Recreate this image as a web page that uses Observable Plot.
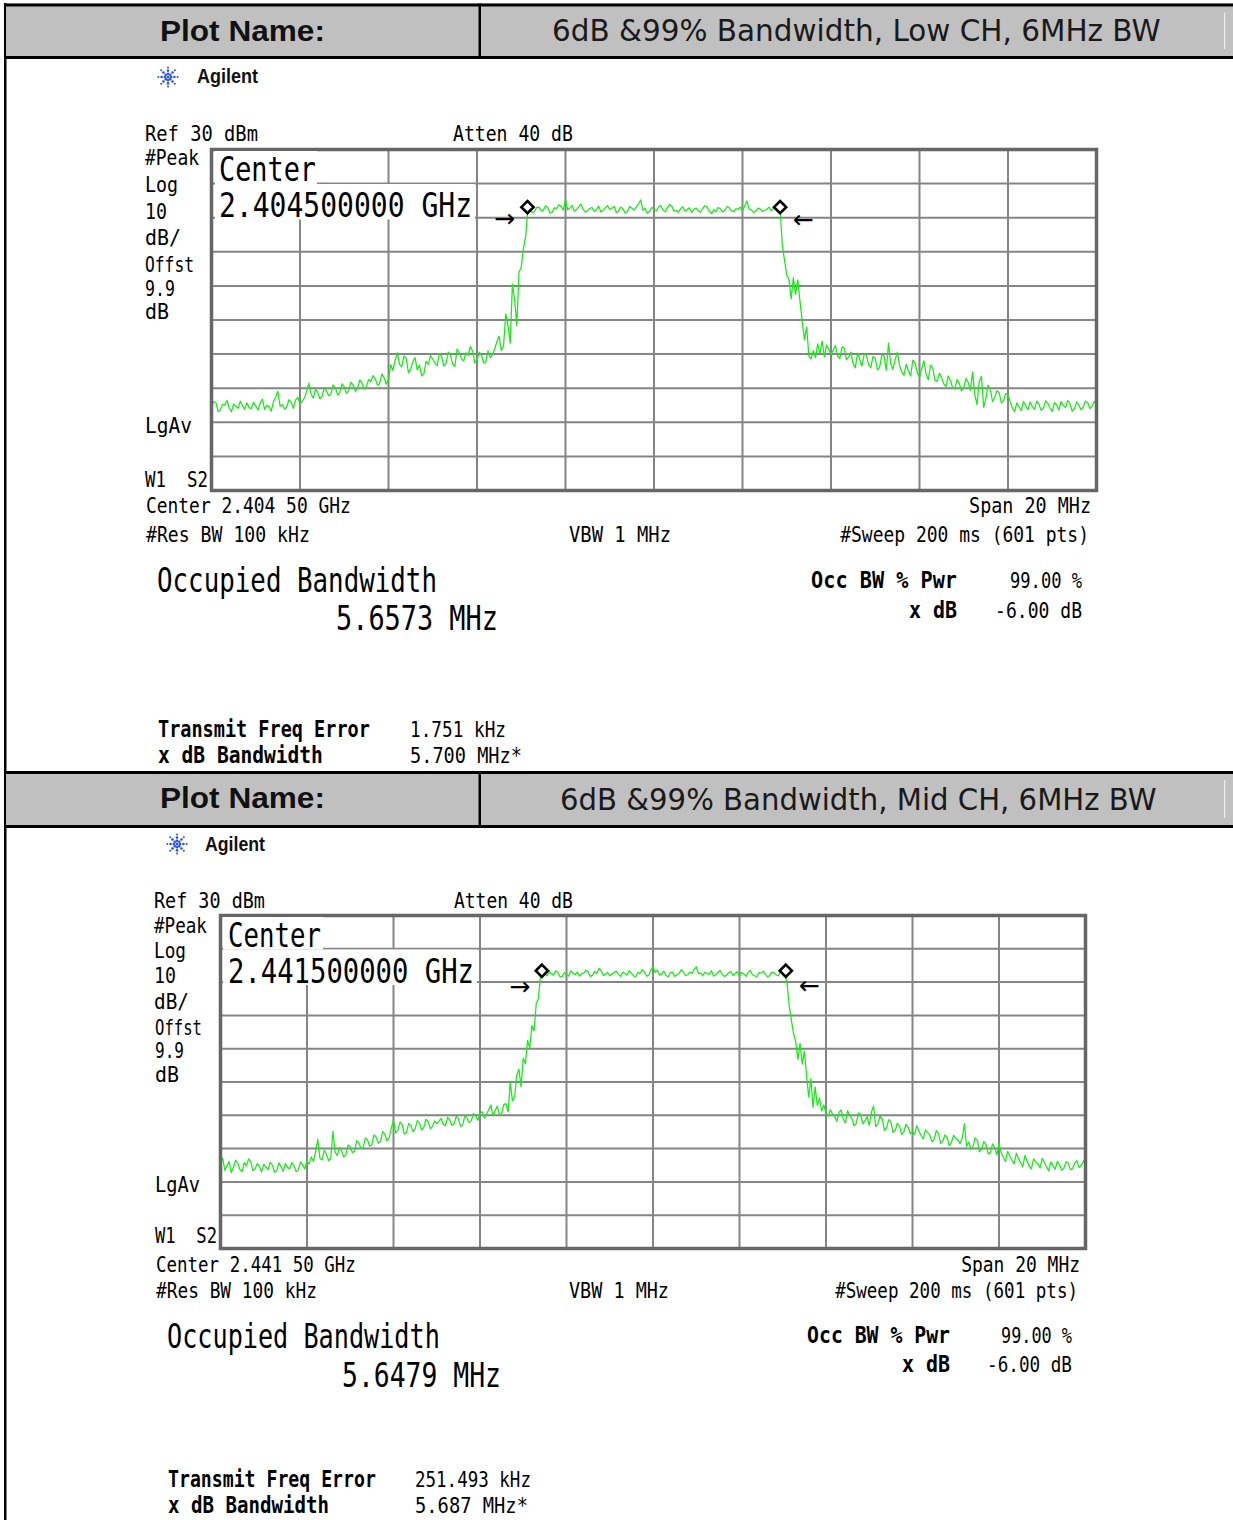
<!DOCTYPE html>
<html>
<head>
<meta charset="utf-8">
<script src="https://cdn.jsdelivr.net/npm/d3@7"></script>
<script src="https://cdn.jsdelivr.net/npm/@observablehq/plot@0.6"></script>
<style>
html,body{margin:0;padding:0;background:#fff;}
#page{position:relative;width:1233px;height:1520px;overflow:hidden;background:#fff;}
#page > svg.layer{position:absolute;left:0;top:0;}
.chart{position:absolute;}
.chart svg{display:block;}
</style>
</head>
<body>
<div id="page"></div>
<script>
// ---------------- DATA ----------------
const sweepStartMHz = -10;   // offset from centre frequency
const sweepStepMHz = 0.05;   // reading resolution of the trace (401 readings)
const gridFreqMHz = [-10, -8, -6, -4, -2, 0, 2, 4, 6, 8, 10];
const gridLevelDbm = [-70, -60, -50, -40, -30, -20, -10, 0, 10, 20, 30];

const plotTitles = ["6dB &99% Bandwidth, Low CH, 6MHz BW", "6dB &99% Bandwidth, Mid CH, 6MHz BW"];
const centerFreqLabels = ["2.404500000 GHz", "2.441500000 GHz"];
const centerShortLabels = ["Center 2.404 50 GHz", "Center 2.441 50 GHz"];
const occupiedBandwidth = ["5.6573 MHz", "5.6479 MHz"];
const transmitFreqError = ["1.751 kHz", "251.493 kHz"];
const xdBBandwidth = ["5.700 MHz*", "5.687 MHz*"];

// trace level in dBm, one reading every 0.05 MHz from -10 MHz to +10 MHz
const lowTrace = [
 -45.5,-43.9,-44.2,-46.8,-46.3,-44.7,-45.0,-43.6,-45.8,-46.9,-44.6,-45.3,-45.9,-43.8,-45.1,-46.2,-44.3,-45.7,-46.0,-44.1,-45.2,
 -46.4,-44.5,-43.2,-46.2,-45.0,-45.4,-46.7,-44.0,-42.6,-40.9,-45.3,-44.8,-46.1,-45.6,-43.4,-44.1,-45.9,-43.5,-42.7,-44.6,
 -43.9,-42.8,-41.0,-38.5,-41.7,-42.9,-40.3,-41.2,-43.1,-42.4,-39.8,-40.8,-42.2,-41.6,-39.0,-39.9,-42.0,-41.3,-38.7,-39.6,
 -41.5,-40.7,-38.2,-39.0,-40.9,-40.1,-37.6,-38.4,-40.3,-39.7,-37.4,-38.1,-36.3,-37.2,-39.1,-38.6,-35.8,-36.9,-38.8,-37.5,
 -33.1,-34.8,-31.9,-29.6,-33.0,-33.7,-30.5,-31.2,-35.4,-34.5,-32.2,-31.0,-34.6,-33.2,-36.4,-35.8,-32.1,-33.0,-30.4,-31.5,
 -32.6,-33.4,-29.8,-30.6,-33.5,-32.8,-29.4,-30.2,-32.9,-33.6,-28.5,-29.7,-31.4,-32.0,-29.6,-30.4,-27.8,-29.1,-32.5,-31.8,
 -29.4,-30.2,-32.6,-32.3,-29.0,-31.0,-30.1,-28.5,-26.3,-24.8,-28.9,-27.6,-18.2,-21.5,-26.8,-9.5,-14.0,-21.6,-6.0,-4.5,
 1.0,4.5,12.6,12.4,11.5,11.8,13.0,13.1,12.0,12.2,13.5,12.9,11.4,11.6,12.9,12.7,13.8,13.4,12.2,15.4,
 12.3,12.8,13.6,11.9,12.4,13.2,14.0,12.5,11.6,12.1,12.7,13.0,11.8,12.3,13.4,11.7,12.2,12.9,13.5,12.4,
 12.8,13.3,11.5,12.0,13.1,12.6,11.4,11.8,13.3,12.8,12.2,13.1,14.1,15.2,12.2,12.7,11.3,11.9,13.0,12.5,
 12.0,13.0,13.6,12.3,11.7,12.8,13.9,13.4,12.0,12.1,11.6,12.6,13.2,11.9,12.4,12.9,11.5,12.4,12.8,12.0,
 11.6,12.7,13.5,13.2,11.9,11.2,12.3,11.8,13.0,12.6,11.7,12.2,13.3,12.9,12.1,11.7,12.6,12.5,13.1,12.0,
 13.4,14.9,12.6,12.3,11.5,11.9,12.8,12.6,11.8,12.2,12.5,13.1,12.0,12.7,13.4,12.9,12.6,2.0,-2.5,-6.8,
 -8.0,-13.8,-7.6,-12.5,-8.2,-14.6,-20.4,-25.8,-22.0,-30.6,-31.4,-29.0,-31.0,-27.0,-29.9,-26.2,-30.8,-27.4,-28.6,-30.1,
 -28.8,-27.5,-30.6,-31.3,-27.9,-28.2,-31.6,-30.9,-29.4,-32.8,-34.0,-29.7,-31.5,-33.5,-29.9,-30.4,-33.1,-34.0,-30.7,-31.2,
 -34.6,-33.8,-30.1,-30.6,-34.7,-26.8,-32.9,-34.5,-31.6,-29.4,-33.4,-35.2,-36.2,-33.0,-34.8,-36.4,-31.8,-32.6,-35.5,-36.8,
 -34.3,-32.0,-35.9,-37.5,-33.2,-34.1,-37.7,-38.0,-35.6,-36.9,-38.8,-39.5,-36.4,-37.8,-39.9,-40.2,-37.5,-38.6,-40.8,-39.9,
 -37.1,-38.3,-40.6,-35.2,-41.9,-44.8,-38.0,-36.5,-45.6,-43.0,-39.1,-40.4,-43.9,-42.8,-40.7,-41.3,-44.3,-43.6,-41.5,-42.0,
 -44.1,-45.8,-46.9,-44.3,-45.5,-46.6,-43.9,-45.1,-46.3,-44.0,-45.4,-46.2,-43.8,-44.7,-46.5,-45.9,-43.7,-44.4,-45.8,-46.8,
 -44.2,-45.0,-46.4,-43.9,-45.1,-45.7,-43.6,-44.6,-46.7,-46.1,-44.0,-44.9,-46.3,-45.6,-43.8,-44.2,-46.0,-45.3,-43.9,-44.8
];
const midTrace = [
 -44.8,-42.9,-46.5,-45.1,-43.9,-47.2,-45.6,-43.5,-44.4,-46.3,-46.9,-44.2,-45.2,-43.1,-44.0,-46.6,-46.1,-44.5,-45.3,-47.0,-44.7,
 -45.5,-46.3,-44.1,-45.0,-47.1,-46.6,-44.3,-45.4,-46.8,-44.5,-45.7,-46.0,-44.2,-45.1,-47.0,-46.4,-44.0,-44.9,-46.1,-43.8,
 -44.6,-42.5,-43.8,-40.9,-37.2,-43.0,-43.4,-40.5,-41.7,-43.6,-42.9,-34.8,-41.1,-42.0,-39.7,-40.6,-42.5,-41.8,-38.9,-39.5,
 -41.2,-40.8,-37.6,-38.2,-40.1,-39.6,-36.8,-37.4,-39.3,-38.8,-35.9,-36.5,-38.4,-37.9,-34.9,-35.6,-37.7,-36.8,-33.8,-31.5,
 -35.3,-34.6,-32.0,-32.8,-35.6,-35.2,-32.5,-33.0,-34.9,-34.1,-31.6,-32.2,-34.4,-33.7,-31.2,-31.8,-34.0,-33.4,-31.7,-32.5,
 -31.8,-30.9,-32.7,-33.2,-30.6,-31.4,-33.0,-32.6,-30.3,-31.0,-33.3,-32.9,-30.1,-30.7,-32.2,-31.6,-29.4,-30.2,-31.5,-29.5,
 -28.9,-30.8,-29.7,-28.4,-26.9,-30.1,-28.6,-27.2,-29.8,-29.6,-26.8,-26.5,-29.0,-20.0,-25.6,-24.5,-17.9,-16.2,-21.4,-12.8,
 -14.5,-7.5,-9.8,-3.0,-4.6,3.5,5.0,11.8,12.9,12.6,11.9,13.2,12.5,12.1,13.4,12.9,11.6,11.7,12.8,12.4,
 11.8,13.4,12.7,12.2,13.0,11.8,12.5,12.7,13.6,13.1,11.7,12.0,13.2,12.6,14.1,13.5,12.0,12.3,12.9,11.9,
 12.4,12.8,13.3,12.4,11.7,13.0,12.6,12.1,13.4,12.7,11.9,11.6,12.9,12.5,13.7,13.2,11.8,12.0,13.5,14.8,
 12.9,13.6,12.1,12.4,13.3,12.0,11.6,12.8,13.0,11.7,12.2,12.5,13.7,13.1,11.9,12.2,13.0,12.6,13.8,14.6,
 12.5,12.7,11.9,13.0,12.6,12.3,13.4,11.8,12.2,12.9,13.5,12.4,11.7,12.1,12.8,13.2,12.0,12.6,13.1,11.8,
 12.9,12.5,11.7,12.9,13.5,12.2,11.9,11.6,12.8,12.7,13.3,12.3,11.6,12.0,13.0,12.8,12.1,11.9,13.2,12.4,
 13.0,9.5,3.0,-1.5,-5.5,-7.8,-13.2,-8.4,-14.6,-10.8,-17.8,-24.5,-19.0,-27.6,-21.5,-27.0,-24.8,-28.7,-26.9,-29.6,
 -30.2,-28.3,-29.6,-30.4,-31.8,-29.1,-28.4,-31.2,-32.3,-28.6,-30.1,-30.9,-33.2,-32.4,-29.3,-29.8,-32.6,-31.7,-30.4,-33.0,
 -29.1,-27.2,-33.4,-32.6,-30.2,-31.1,-34.5,-33.8,-31.3,-32.0,-35.1,-34.6,-32.4,-33.2,-35.8,-35.0,-32.7,-33.6,-35.6,-34.8,
 -35.7,-33.1,-34.8,-36.0,-37.1,-34.4,-35.2,-35.9,-38.0,-37.2,-34.6,-35.5,-38.4,-37.8,-35.9,-36.6,-39.1,-38.2,-36.0,-36.9,
 -37.4,-38.5,-36.9,-32.5,-39.3,-38.0,-40.2,-39.4,-36.8,-37.6,-40.9,-40.1,-37.9,-38.8,-41.6,-41.2,-38.6,-39.7,-41.9,-38.4,
 -41.1,-42.6,-43.9,-40.8,-42.2,-43.5,-44.6,-41.4,-43.0,-44.2,-45.4,-42.0,-43.7,-45.3,-46.1,-43.1,-44.0,-44.6,-45.8,-42.9,
 -44.1,-45.5,-46.6,-44.0,-45.2,-46.2,-43.8,-44.8,-46.5,-45.9,-43.9,-44.3,-46.3,-46.0,-44.4,-43.6,-45.7,-45.1,-44.0,-42.8
];
// peak-search markers (diamonds) and OBW arrows
const lowMarkers = [{f:-2.86, p:13.1}, {f:2.85, p:13.1}];
const midMarkers = [{f:-2.57, p:13.4}, {f:3.07, p:13.4}];
const lowArrows = [{f:-3.38, p:9.6, t:"→"}, {f:3.38, p:9.3, t:"←"}];
const midArrows = [{f:-3.08, p:8.6, t:"→"}, {f:3.62, p:8.7, t:"←"}];

// ---------------- LAYOUT ----------------
const MONO = "DejaVu Sans Mono";
const SANS = "Liberation Sans, Arial, sans-serif";
const TITLE = "DejaVu Sans, Verdana, sans-serif";
// [text, x, baseline, capHeight, width, anchor, weight]
const panels = [
  {
    title: plotTitles[0], header:{top:3.5, bottom:56}, titleX:552, titleW:609, titleBase:41,
    frame:{x:211, y:149, w:885, h:341}, trace:lowTrace, markers:lowMarkers, arrows:lowArrows,
    logo:{x:168, y:77, tx:197, tb:83, tw:61},
    centerBox:{x:215, y:151, w1:102, w2:260, mid:184, bot:219.5, tx:219, b1:181, b2:217, l1:97, l2:253},
    texts:[
      ["Ref 30 dBm",145,141,16,113],["Atten 40 dB",453,141,16,120],
      ["#Peak",145,165,16,54],["Log",145,192,16,33],["10",145,219,16,22],["dB/",145,245,16,36],
      ["Offst",145,272,16,49],["9.9",145,296,16,30],["dB",145,319,16,24],
      ["LgAv",145,433,16,47],["W1  S2",145,487,16,63],
      [centerShortLabels[0],146,513,16,205],["Span 20 MHz",1091,513,16,122,"end"],
      ["#Res BW 100 kHz",146,542,16,164],["VBW 1 MHz",569,542,16,102],
      ["#Sweep 200 ms (601 pts)",1089,542,16,249,"end"],
      ["Occupied Bandwidth",157,592,25,280],[occupiedBandwidth[0],336,630,25,162],
      ["Occ BW % Pwr",957,588,16.5,146,"end","bold"],["99.00 %",1082,588,16,72,"end"],
      ["x dB",957,618,16.5,48,"end","bold"],["-6.00 dB",1082,618,16,87,"end"],
      ["Transmit Freq Error",158,737,17,212,"start","bold"],[transmitFreqError[0],410,737,16,96],
      ["x dB Bandwidth",158,763,17,165,"start","bold"],[xdBBandwidth[0],410,763,16,112]
    ]
  },
  {
    title: plotTitles[1], header:{top:771, bottom:825}, titleX:560, titleW:597, titleBase:810,
    frame:{x:220, y:915, w:865, h:333}, trace:midTrace, markers:midMarkers, arrows:midArrows,
    logo:{x:177, y:844, tx:205, tb:851, tw:60},
    centerBox:{x:223, y:917, w1:100, w2:254, mid:949.5, bot:985, tx:228, b1:947, b2:983, l1:93, l2:246},
    texts:[
      ["Ref 30 dBm",154,908,16,111],["Atten 40 dB",454,908,16,119],
      ["#Peak",154,933,16,53],["Log",154,958,16,32],["10",154,983,16,22],["dB/",154,1009,16,35],
      ["Offst",155,1035,16,47],["9.9",155,1058,16,29],["dB",155,1082,16,24],
      ["LgAv",155,1192,16,45],["W1  S2",155,1243,16,62],
      [centerShortLabels[1],156,1272,16,200],["Span 20 MHz",1080,1272,16,119,"end"],
      ["#Res BW 100 kHz",156,1298,16,161],["VBW 1 MHz",569,1298,16,100],
      ["#Sweep 200 ms (601 pts)",1078,1298,16,243,"end"],
      ["Occupied Bandwidth",167,1348,24,273],[occupiedBandwidth[1],342,1387,25,159],
      ["Occ BW % Pwr",950,1343,16.5,143,"end","bold"],["99.00 %",1072,1343,16,71,"end"],
      ["x dB",950,1372,16.5,48,"end","bold"],["-6.00 dB",1072,1372,16,85,"end"],
      ["Transmit Freq Error",168,1487,16.5,208,"start","bold"],[transmitFreqError[1],415,1487,16,116],
      ["x dB Bandwidth",168,1513,16.5,161,"start","bold"],[xdBBandwidth[1],415,1513,16,113]
    ]
  }
];

const page = d3.select("#page");
const bg = page.append("svg").attr("class","layer").attr("width",1233).attr("height",1520);

// text whose natural width equals the target width, stretched vertically to the cap height
function addText(svg, t, x, y, cap, w, anchor="start", weight="normal", family=MONO, fill="#000", capRatio=0.729) {
  const g = svg.append("g").attr("transform", `translate(${x},${y})`);
  const el = g.append("text").attr("x",0).attr("y",0).attr("font-size",100)
    .attr("font-family",family).attr("font-weight",weight).attr("text-anchor",anchor)
    .attr("fill",fill).style("white-space","pre").text(t);
  const nat = el.node().getComputedTextLength() || 1;
  const fs = 100 * w / nat;
  el.attr("font-size", fs);
  const sy = cap / (capRatio * fs);
  g.attr("transform", `translate(${x},${y}) scale(1,${sy.toFixed(4)})`);
  return el;
}

function drawStar(svg, cx, cy) {
  const g = svg.append("g").attr("fill","#2d4fe6");
  for (let k = 0; k < 8; k++) {
    const a = k * Math.PI / 4;
    for (const r of [3.2, 6.4, 9.6]) {
      g.append("circle").attr("cx", cx + r*Math.cos(a)).attr("cy", cy + r*Math.sin(a)).attr("r", r > 8 ? 1.0 : 1.3);
    }
  }
  g.append("circle").attr("cx",cx).attr("cy",cy).attr("r",1.6);
}

// table frame (left border)
bg.append("rect").attr("x",4).attr("y",3).attr("width",2.5).attr("height",1517).attr("fill","#000");

panels.forEach((p, idx) => {
  const h = p.header;
  bg.append("rect").attr("x",6).attr("y",h.top).attr("width",1227).attr("height",h.bottom-h.top).attr("fill","#c0c0c0");
  bg.append("rect").attr("x",4).attr("y",h.top).attr("width",1229).attr("height",3).attr("fill","#000");
  bg.append("rect").attr("x",4).attr("y",h.bottom).attr("width",1229).attr("height",3).attr("fill","#000");
  bg.append("rect").attr("x",478.5).attr("y",h.top).attr("width",2.5).attr("height",h.bottom-h.top+2).attr("fill","#000");
  bg.append("rect").attr("x",1224).attr("y",h.top+9).attr("width",1.2).attr("height",h.bottom-h.top-16).attr("fill","#ececec");
  addText(bg, "Plot Name:", 160, h.top + 37, 21, 165, "start", "bold", SANS, "#111", 0.716);
  addText(bg, p.title, p.titleX, p.titleBase, 22, p.titleW, "start", "normal", TITLE, "#1a1a1a", 0.729);

  // Agilent logo
  drawStar(bg, p.logo.x, p.logo.y);
  addText(bg, "Agilent", p.logo.tx, p.logo.tb, 14, p.logo.tw, "start", "bold", SANS, "#111", 0.716);

  // instrument annotations
  p.texts.forEach(([t,x,y,cap,w,anchor,weight]) => addText(bg, t, x, y, cap, w, anchor || "start", weight || "normal"));

  // spectrum chart
  const data = p.trace.map((v, i) => ({f: sweepStartMHz + i*sweepStepMHz, p: v}));
  const m = 3;
  const chart = Plot.plot({
    width: p.frame.w + 2*m, height: p.frame.h + 2*m,
    marginTop: m, marginRight: m, marginBottom: m, marginLeft: m,
    x: {domain: [-10, 10], axis: null},
    y: {domain: [-70, 30], axis: null},
    style: {background: "white", overflow: "visible"},
    marks: [
      Plot.ruleX(gridFreqMHz, {stroke: "#858585", strokeWidth: 2}),
      Plot.ruleY(gridLevelDbm, {stroke: "#858585", strokeWidth: 2}),
      Plot.line(data, {x: "f", y: "p", stroke: "#14ec14", strokeWidth: 1.25}),
      Plot.frame({stroke: "#666666", strokeWidth: 3.5}),
      Plot.dot(p.markers, {x: "f", y: "p", symbol: "diamond2", r: 5.5, stroke: "#000", fill: "#fff", strokeWidth: 2.6}),
      Plot.text(p.arrows, {x: "f", y: "p", text: "t", fontSize: 25, fill: "#000", fontFamily: "DejaVu Sans"})
    ]
  });
  page.append("div").attr("class","chart")
    .style("left", (p.frame.x - m) + "px").style("top", (p.frame.y - m) + "px")
    .node().appendChild(chart);
});

// foreground: centre-frequency box drawn over the graticule (one two-line text)
const fg = page.append("svg").attr("class","layer").attr("width",1233).attr("height",1520);
panels.forEach((p, idx) => {
  const c = p.centerBox;
  fg.append("rect").attr("x",c.x).attr("y",c.y).attr("width",c.w1).attr("height",c.mid-c.y).attr("fill","#fff");
  fg.append("rect").attr("x",c.x).attr("y",c.mid).attr("width",c.w2).attr("height",c.bot-c.mid).attr("fill","#fff");
  const fs = 28, sy = 25 / (0.729 * fs);
  const g = fg.append("g").attr("transform", `translate(${c.tx},${c.b2}) scale(1,${sy.toFixed(4)})`);
  const txt = g.append("text").attr("font-family", MONO).attr("font-size", fs).attr("fill", "#000");
  txt.append("tspan").attr("x", 0).attr("y", ((c.b1 - c.b2) / sy).toFixed(2))
    .attr("textLength", c.l1).attr("lengthAdjust", "spacingAndGlyphs").text("Center");
  txt.append("tspan").attr("x", 0).attr("y", 0)
    .attr("textLength", c.l2).attr("lengthAdjust", "spacingAndGlyphs").text(centerFreqLabels[idx]);
});
</script>
</body>
</html>
